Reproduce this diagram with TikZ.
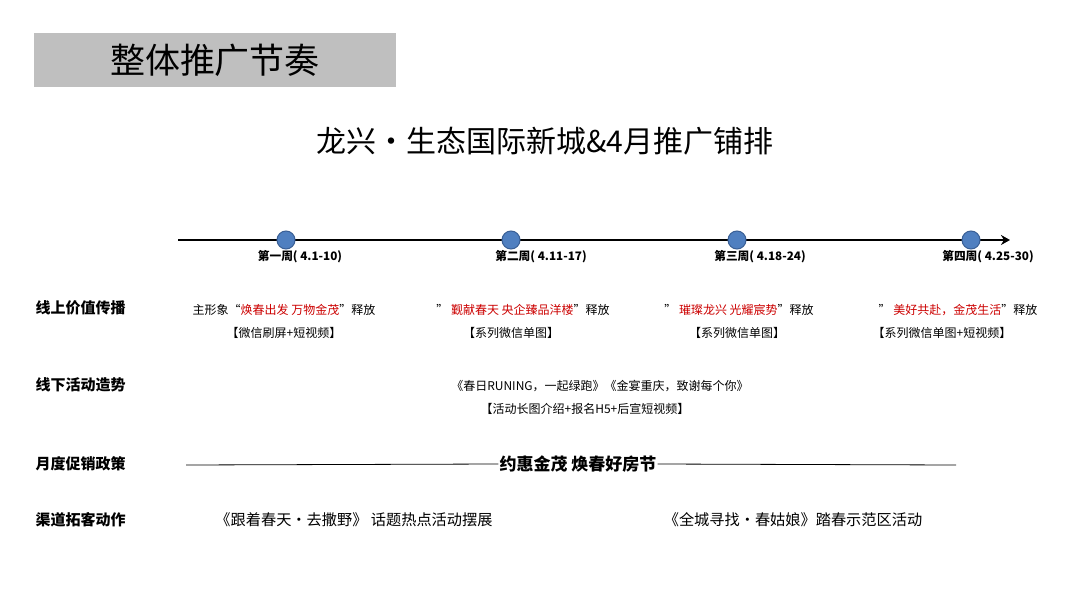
\documentclass[tikz,border=0pt]{standalone}
\usepackage{fontspec}
\usetikzlibrary{arrows.meta}
\setmainfont{Noto Sans CJK SC}
\definecolor{dotc}{HTML}{4F7FC0}
\definecolor{dotb}{HTML}{3A5F95}
\begin{document}
\begin{tikzpicture}[x=1pt,y=-1pt,
  dot/.style={circle,fill=dotc,draw=dotb,line width=1pt,minimum size=18pt,inner sep=0},
  wk/.style={font=\fontsize{11.7}{13}\selectfont\bfseries},
  sm/.style={font=\fontsize{12}{14}\selectfont},
  rl/.style={font=\fontsize{15}{17}\selectfont\bfseries,anchor=west},
  big/.style={font=\fontsize{15.2}{17}\selectfont}]
\useasboundingbox (0,0) rectangle (1080,608);
\fill[white] (0,0) rectangle (1080,608);
\node[fill=black!25,minimum width=362pt,minimum height=54pt,inner sep=0] (hd) at (215,60) {};
\node[font=\fontsize{35}{38}\selectfont] (ht) at (215,60) {整体推广节奏};
\node[font=\fontsize{30}{33}\selectfont] (st) at (545,141) {龙兴·生态国际新城\&4月推广铺排};
\coordinate (ls) at (178,240); \coordinate (le) at (1010,240);
\draw[line width=2.8pt,-{Stealth[length=9pt,width=10pt]}] (ls) -- (le);
\node[dot] (d1) at (286,240) {};
\node[dot] (d2) at (511,240) {};
\node[dot] (d3) at (737,240) {};
\node[dot] (d4) at (971,240) {};
\node[wk] (w1) at (300,257) {第一周( 4.1-10)};
\node[wk] (w2) at (541,257) {第二周( 4.11-17)};
\node[wk] (w3) at (760,257) {第三周( 4.18-24)};
\node[wk] (w4) at (988,257) {第四周( 4.25-30)};
\node[rl] (r1) at (32,308) {线上价值传播};
\node[rl] (r2) at (32,385) {线下活动造势};
\node[rl] (r3) at (32,464) {月度促销政策};
\node[rl] (r4) at (32,520) {渠道拓客动作};
\node[sm] (a1) at (284,310) {主形象“\textcolor{red!80!black}{焕春出发 万物金茂}”释放};
\node[sm] (b1) at (284,333) {【微信刷屏+短视频】};
\node[sm] (a2) at (523,310) {” \textcolor{red!80!black}{觐献春天 央企臻品洋楼}”释放};
\node[sm] (b2) at (511,333) {【系列微信单图】};
\node[sm] (a3) at (739,310) {” \textcolor{red!80!black}{璀璨龙兴 光耀宸势}”释放};
\node[sm] (b3) at (737,333) {【系列微信单图】};
\node[sm] (a4) at (958,310) {” \textcolor{red!80!black}{美好共赴，金茂生活}”释放};
\node[sm] (b4) at (942,333) {【系列微信单图+短视频】};
\node[sm] (c1) at (600,386) {《春日RUNING，一起绿跑》《金宴重庆，致谢每个你》};
\node[sm] (c2) at (585,409) {【活动长图介绍+报名H5+后宣短视频】};
\node[font=\fontsize{17}{19}\selectfont\bfseries,inner sep=1pt] (pr) at (578,464) {约惠金茂 焕春好房节};
\coordinate (pl) at (186,465); \coordinate (pe) at (956,465);
\draw[line width=0.8pt] (pl) -- (pr.west) (pr.east) -- (pe);
\node[big] (q1) at (354,520) {《跟着春天·去撒野》 话题热点活动摆展};
\node[big] (q2) at (793,520) {《全城寻找·春姑娘》踏春示范区活动};
\end{tikzpicture}
\end{document}
